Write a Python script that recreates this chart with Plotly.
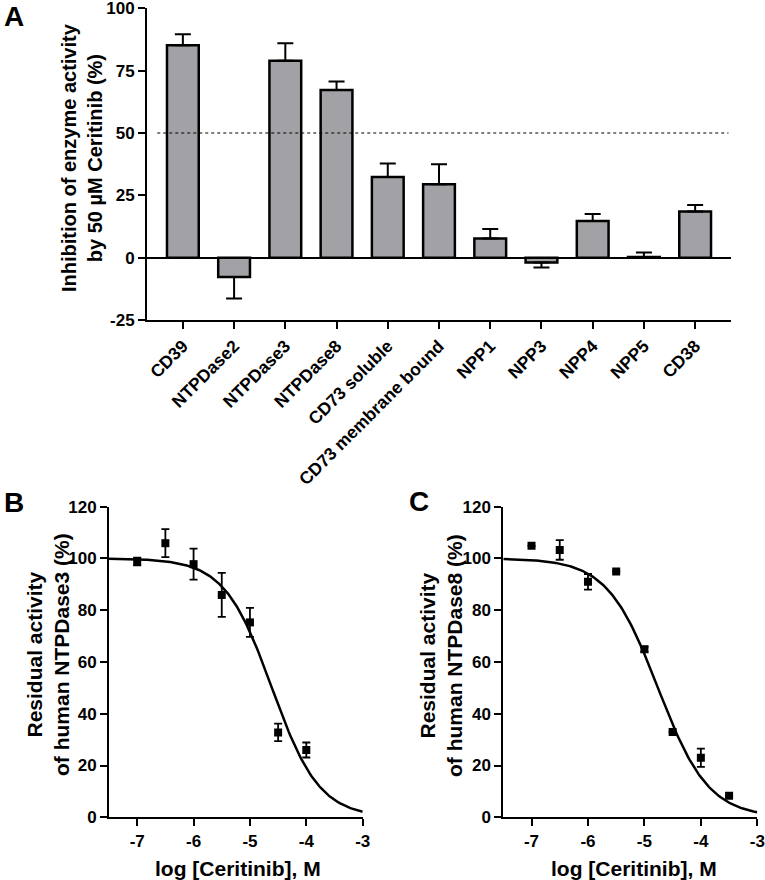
import numpy as np
import plotly.graph_objects as go

# ---------------- data ----------------
categories = ["CD39", "NTPDase2", "NTPDase3", "NTPDase8", "CD73 soluble",
              "CD73 membrane bound", "NPP1", "NPP3", "NPP4", "NPP5", "CD38"]
inhibition = [85.2, -7.8, 79.0, 67.2, 32.3, 29.4, 7.7, -1.9, 14.7, 0.3, 18.5]
inhibition_sem = [4.4, 8.6, 7.0, 3.4, 5.5, 8.1, 3.8, 2.0, 2.8, 1.8, 2.6]

log_conc_b = [-7, -6.5, -6, -5.5, -5, -4.5, -4]
resid_b = [98.8, 105.9, 97.8, 85.9, 75.3, 32.8, 26.0]
err_b = [1.5, 5.4, 6.0, 8.5, 5.6, 3.4, 2.9]

log_conc_c = [-7, -6.5, -6, -5.5, -5, -4.5, -4, -3.5]
resid_c = [104.9, 103.3, 91.0, 95.0, 64.9, 33.0, 23.0, 8.3]
err_c = [0, 3.8, 3.0, 0, 1.0, 0, 3.5, 0]

# fitted dose-response parameters (top 100, bottom 0)
fit_b = {"logIC50": -4.61, "hill": 1.03}
fit_c = {"logIC50": -4.76, "hill": 0.97}

yticks_a = [-25, 0, 25, 50, 75, 100]
yticks_bc = [0, 20, 40, 60, 80, 100, 120]
xticks_bc = [-7, -6, -5, -4, -3]

# ---------------- helpers ----------------
W, H = 765, 880
def px(x):
    return x / W
def py(y):
    return 1 - y / H

FONT = "Arial, Liberation Sans, Helvetica, sans-serif"
tickfont = dict(family=FONT, size=17, color="black", weight=700)
catfont = dict(family=FONT, size=17.5, color="black", weight=700)

def bold(vals):
    return ["<b>%s</b>" % v for v in vals]

def curve(p):
    xs = np.linspace(-7.5, -3, 200)
    ys = 100 / (1 + 10 ** ((xs - p["logIC50"]) * p["hill"]))
    return xs, ys

fig = go.Figure()

# ---------------- panel A ----------------
err_plus = [e if v >= 0 else 0 for v, e in zip(inhibition, inhibition_sem)]
err_minus = [e if v < 0 else 0 for v, e in zip(inhibition, inhibition_sem)]
fig.add_trace(go.Bar(
    x=categories, y=inhibition, width=0.62,
    marker=dict(color="#a2a2a6", line=dict(color="black", width=2.5)),
    error_y=dict(type="data", array=err_plus, arrayminus=err_minus,
                 symmetric=False, color="black", thickness=2, width=8),
    xaxis="x", yaxis="y", showlegend=False))

# ---------------- panel B ----------------
xb, yb = curve(fit_b)
fig.add_trace(go.Scatter(x=xb, y=yb, mode="lines", line=dict(color="black", width=2.5),
                         xaxis="x2", yaxis="y2", showlegend=False))
fig.add_trace(go.Scatter(x=log_conc_b, y=resid_b, mode="markers",
                         marker=dict(symbol="square", size=8, color="black"),
                         error_y=dict(type="data", array=err_b, color="black", thickness=1.8, width=4),
                         xaxis="x2", yaxis="y2", showlegend=False))

# ---------------- panel C ----------------
xc, yc = curve(fit_c)
fig.add_trace(go.Scatter(x=xc, y=yc, mode="lines", line=dict(color="black", width=2.5),
                         xaxis="x3", yaxis="y3", showlegend=False))
fig.add_trace(go.Scatter(x=log_conc_c, y=resid_c, mode="markers",
                         marker=dict(symbol="square", size=8, color="black"),
                         error_y=dict(type="data", array=err_c, color="black", thickness=1.8, width=4),
                         xaxis="x3", yaxis="y3", showlegend=False))

axis_common = dict(showline=True, linecolor="black", linewidth=2, ticks="outside",
                   ticklen=7, tickwidth=2, tickcolor="black", showgrid=False,
                   fixedrange=True, automargin=False, ticklabeloverflow="allow")

fig.update_layout(
    template="none",
    width=W, height=H, margin=dict(l=0, r=0, t=0, b=0, pad=0, autoexpand=False),
    paper_bgcolor="white", plot_bgcolor="white",
    font=dict(family=FONT, color="black"),
    xaxis=dict(domain=[px(147), px(731)], range=[-0.7, 10.7], anchor="y",
               tickmode="array", tickvals=categories, ticktext=bold(categories),
               tickangle=-45, zeroline=False, tickfont=catfont, **axis_common),
    yaxis=dict(domain=[py(320), py(8.3)], range=[-25, 100], anchor="x",
               tickmode="array", tickvals=yticks_a, ticktext=bold(yticks_a),
               zeroline=True, zerolinecolor="black", zerolinewidth=2,
               tickfont=tickfont, **axis_common),
    xaxis2=dict(domain=[px(109), px(362.7)], range=[-7.5, -3], anchor="y2",
                tickmode="array", tickvals=xticks_bc, ticktext=bold(xticks_bc),
                zeroline=False, tickfont=tickfont, **axis_common),
    yaxis2=dict(domain=[py(817.3), py(506.7)], range=[0, 120], anchor="x2",
                tickmode="array", tickvals=yticks_bc, ticktext=bold(yticks_bc),
                zeroline=False, tickfont=tickfont, **axis_common),
    xaxis3=dict(domain=[px(503.3), px(757.3)], range=[-7.5, -3], anchor="y3",
                tickmode="array", tickvals=xticks_bc, ticktext=bold(xticks_bc),
                zeroline=False, tickfont=tickfont, **axis_common),
    yaxis3=dict(domain=[py(817.3), py(506.7)], range=[0, 120], anchor="x3",
                tickmode="array", tickvals=yticks_bc, ticktext=bold(yticks_bc),
                zeroline=False, tickfont=tickfont, **axis_common),
)

# dotted 50 % line
fig.add_shape(type="line", xref="x", yref="y", x0=-0.5, x1=10.65, y0=50, y1=50,
              line=dict(color="black", width=1.2, dash="dot"))

def ann(text, x, y, size, angle=0):
    fig.add_annotation(text="<b>%s</b>" % text, x=px(x), y=py(y), xref="paper", yref="paper",
                       showarrow=False, textangle=angle, xanchor="center", yanchor="middle",
                       font=dict(family=FONT, size=size, color="black"))

ann("Inhibition of enzyme activity<br>by 50 µM Ceritinib (%)", 82, 158, 20, -90)
ann("Residual activity<br>of human NTPDase3 (%)", 48, 655, 21, -90)
ann("Residual activity<br>of human NTPDase8 (%)", 441, 655, 21, -90)
ann("log [Ceritinib], M", 238, 868, 21)
ann("log [Ceritinib], M", 634, 868, 21)
ann("A", 14, 16, 28)
ann("B", 13.5, 503, 28)
ann("C", 419, 501.5, 28)

# remove the default page margin so the figure starts at the window corner
fig.write_html("out.html", config={"displayModeBar": False},
               post_script="document.body.style.margin='0';")
